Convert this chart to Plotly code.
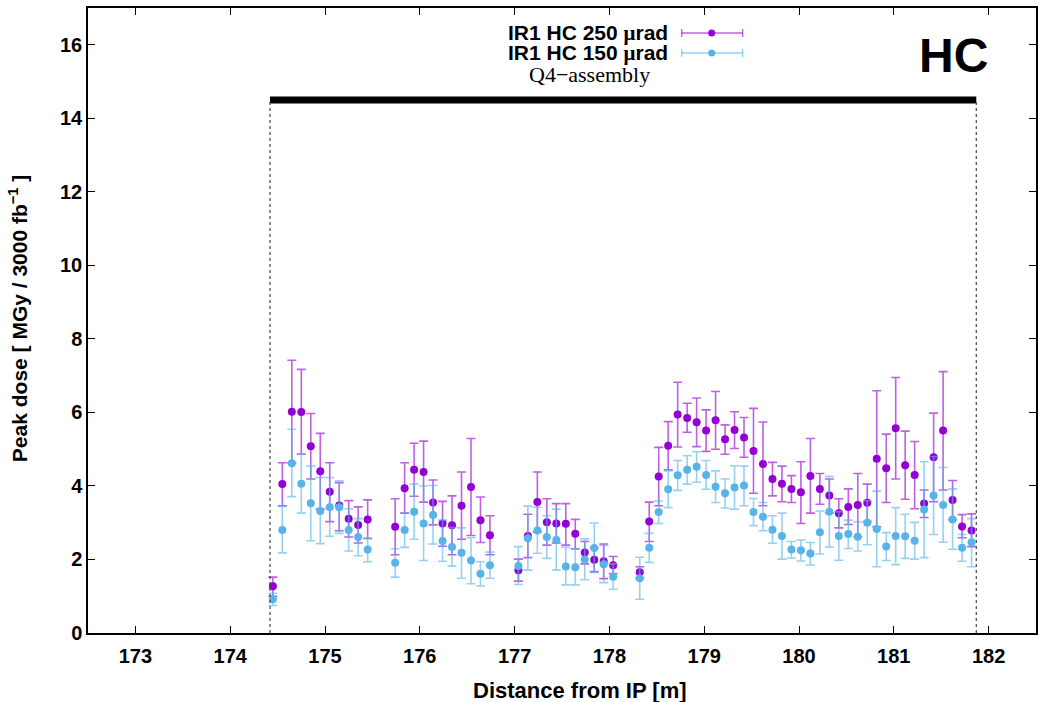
import numpy as np
import plotly.graph_objects as go

# ---------------- data ----------------
pos = [174.45, 174.55, 174.65, 174.75, 174.85, 174.95, 175.05, 175.15, 175.25, 175.35, 175.45,
       175.74, 175.84, 175.94, 176.04, 176.14, 176.24, 176.34, 176.44, 176.54, 176.64, 176.74,
       177.04, 177.14, 177.24, 177.34, 177.44, 177.54, 177.64, 177.74, 177.84, 177.94, 178.04,
       178.32, 178.42, 178.52, 178.62, 178.72, 178.82, 178.92, 179.02, 179.12, 179.22, 179.32,
       179.42, 179.52, 179.62, 179.72, 179.82, 179.92, 180.02, 180.12, 180.22, 180.32, 180.42,
       180.52, 180.62, 180.72, 180.82, 180.92, 181.02, 181.12, 181.22, 181.32, 181.42, 181.52,
       181.62, 181.72, 181.82]

hc250 = [1.27, 4.05, 6.02, 6.01, 5.08, 4.40, 3.84, 3.47, 3.11, 2.94, 3.09,
         2.89, 3.94, 4.44, 4.38, 3.55, 2.98, 2.93, 3.46, 3.97, 3.07, 2.66,
         1.71, 2.64, 3.56, 3.01, 2.98, 2.97, 2.70, 2.19, 1.99, 1.95, 1.84,
         1.65, 3.03, 4.26, 5.09, 5.94, 5.85, 5.73, 5.51, 5.79, 5.27, 5.52, 5.32, 4.95,
         4.60, 4.19, 4.06, 3.92, 3.83, 4.27, 3.92, 3.74, 3.26, 3.43, 3.48, 3.54, 4.74,
         4.48, 5.57, 4.56, 4.30, 3.52, 4.78, 5.51, 3.62, 2.90, 2.79]
hc250_hi = [1.52, 4.63, 7.42, 7.17, 5.97, 5.43, 4.63, 4.09, 3.60, 3.43, 3.62,
            3.65, 4.63, 5.16, 5.22, 4.16, 3.58, 3.73, 4.38, 5.29, 3.70, 3.19,
            2.01, 3.23, 4.38, 3.65, 3.52, 3.52, 3.09, 2.49, 2.31, 2.42, 2.08,
            1.80, 3.56, 5.05, 5.75, 6.82, 6.25, 6.39, 6.07, 6.57, 5.66, 6.02, 5.86, 6.11,
            5.74, 4.64, 4.54, 4.28, 4.66, 5.29, 4.34, 4.19, 3.65, 3.92, 4.34, 4.05, 6.59,
            5.41, 6.95, 5.49, 5.21, 3.89, 5.98, 7.11, 4.15, 3.22, 3.24]
hc250_lo = [1.00, 3.46, 4.62, 4.87, 4.19, 3.37, 3.03, 2.78, 2.61, 2.45, 2.57,
            2.13, 3.26, 3.72, 3.56, 2.94, 2.36, 2.13, 2.55, 2.65, 2.46, 2.13,
            1.41, 2.05, 2.75, 2.39, 2.45, 2.39, 2.29, 1.88, 1.67, 1.48, 1.62,
            1.49, 2.49, 3.46, 4.44, 5.06, 5.46, 5.07, 4.94, 5.00, 4.86, 5.02, 4.78, 3.80,
            3.46, 3.73, 3.57, 3.55, 2.98, 3.26, 3.50, 3.27, 2.86, 2.95, 2.62, 3.03, 2.89,
            3.55, 4.19, 3.64, 3.38, 3.14, 3.57, 3.89, 3.08, 2.59, 2.35]

hc150 = [0.92, 2.80, 4.62, 4.06, 3.53, 3.32, 3.42, 3.42, 2.80, 2.61, 2.27,
         1.91, 2.80, 3.30, 2.98, 3.21, 2.50, 2.34, 2.18, 1.97, 1.61, 1.84,
         1.82, 2.58, 2.79, 2.61, 2.53, 1.81, 1.79, 2.00, 2.31, 1.87, 1.53,
         1.49, 2.32, 3.29, 3.91, 4.29, 4.44, 4.52, 4.30, 3.98, 3.80, 3.96, 4.01, 3.29,
         3.16, 2.81, 2.64, 2.27, 2.25, 2.16, 2.74, 3.30, 2.64, 2.69, 2.62, 3.00, 2.83,
         2.35, 2.64, 2.63, 2.51, 3.36, 3.74, 3.48, 3.09, 2.32, 2.47]
hc150_hi = [1.08, 3.44, 5.54, 4.86, 4.54, 4.23, 4.23, 4.14, 3.38, 3.11, 2.58,
            2.29, 3.27, 4.05, 4.00, 4.01, 3.07, 2.87, 2.86, 2.59, 1.94, 2.20,
            2.35, 3.45, 3.42, 3.19, 3.37, 2.33, 2.28, 2.56, 2.99, 2.38, 1.88,
            2.06, 2.71, 3.59, 4.41, 4.69, 4.82, 4.93, 4.69, 4.41, 4.19, 4.55, 4.54, 3.66,
            3.55, 3.19, 3.26, 2.49, 2.53, 2.46, 3.32, 4.26, 3.30, 3.07, 3.02, 3.60, 3.86,
            2.73, 3.41, 3.23, 3.01, 4.66, 4.80, 4.50, 3.92, 2.68, 3.11]
hc150_lo = [0.75, 2.18, 3.71, 3.26, 2.51, 2.43, 2.63, 2.71, 2.23, 2.10, 1.94,
            1.52, 2.33, 2.55, 1.97, 2.42, 1.95, 1.82, 1.49, 1.34, 1.28, 1.49,
            1.32, 1.71, 2.17, 2.03, 1.71, 1.31, 1.31, 1.45, 1.65, 1.37, 1.19,
            0.92, 1.92, 2.98, 3.41, 3.88, 4.05, 4.10, 3.91, 3.55, 3.40, 3.37, 3.46, 2.92,
            2.78, 2.44, 2.01, 2.04, 1.96, 1.85, 2.15, 2.34, 1.98, 2.30, 2.23, 2.40, 1.80,
            1.97, 1.86, 2.03, 2.01, 2.05, 2.68, 2.47, 2.28, 1.95, 1.80]

series_names = ["IR1 HC 250 ", "IR1 HC 150 "]
unit_label = "μrad"
q4_label = "Q4\u2212assembly"
q4_start, q4_end, q4_level = 174.42, 181.87, 14.5
x_ticks = [173, 174, 175, 176, 177, 178, 179, 180, 181, 182]
y_ticks = [0, 2, 4, 6, 8, 10, 12, 14, 16]

# ---------------- styling ----------------
PURPLE = "#9400D3"
BLUE = "#56B4E9"
PURPLE_ERR = "rgba(148,0,211,0.62)"
BLUE_ERR = "rgba(86,180,233,0.62)"
SANS = "Liberation Sans"
SERIF = "Liberation Serif"

W, H = 1038, 702
L, R, T, B = 88, 0, 8, 69


def px2paper_x(px):
    return (px - L) / (W - L - R)


def px2paper_y(py):
    return (H - B - py) / (H - T - B)


fig = go.Figure()

for vals, hi, lo, col, ecol, nm in [
    (hc250, hc250_hi, hc250_lo, PURPLE, PURPLE_ERR, series_names[0] + unit_label),
    (hc150, hc150_hi, hc150_lo, BLUE, BLUE_ERR, series_names[1] + unit_label),
]:
    v = np.array(vals)
    fig.add_trace(go.Scatter(
        x=pos, y=v, mode="markers", name=nm,
        marker=dict(color=col, size=8, line=dict(width=0)),
        error_y=dict(type="data", symmetric=False,
                     array=np.array(hi) - v, arrayminus=v - np.array(lo),
                     color=ecol, thickness=1.6, width=4.5),
        showlegend=False,
    ))

shapes = []
# Q4 assembly bar and dotted limits
shapes.append(dict(type="line", xref="x", yref="y", x0=q4_start, x1=q4_end,
                   y0=q4_level, y1=q4_level, line=dict(color="black", width=7)))
for xv in (q4_start, q4_end):
    shapes.append(dict(type="line", xref="x", yref="y", x0=xv, x1=xv, y0=0, y1=q4_level,
                       line=dict(color="#444", width=1.2, dash="dot")))

annotations = []
# custom legend
leg_rows = [(33, series_names[0], PURPLE, PURPLE_ERR), (53, series_names[1], BLUE, BLUE_ERR)]
for py, nm, col, ecol in leg_rows:
    yp = px2paper_y(py)
    annotations.append(dict(xref="paper", yref="paper", x=px2paper_x(671), y=yp,
                            xanchor="right", yanchor="middle", showarrow=False,
                            text="<b>" + nm + "<span style='font-family:" + SERIF + "'>"
                                 + unit_label[0] + "</span>" + unit_label[1:] + "</b>",
                            font=dict(family=SANS, size=21, color="black")))
    x0, x1 = px2paper_x(683), px2paper_x(744)
    shapes.append(dict(type="line", xref="paper", yref="paper", x0=x0, x1=x1, y0=yp, y1=yp,
                       line=dict(color=ecol, width=1.4)))
    for xe in (x0, x1):
        shapes.append(dict(type="line", xref="paper", yref="paper", x0=xe, x1=xe,
                           y0=px2paper_y(py - 4), y1=px2paper_y(py + 4),
                           line=dict(color=ecol, width=1.4)))
    shapes.append(dict(type="circle", xref="paper", yref="paper",
                       x0=px2paper_x(713 - 3.5), x1=px2paper_x(713 + 3.5),
                       y0=px2paper_y(py + 3.5), y1=px2paper_y(py - 3.5),
                       fillcolor=col, line=dict(width=0)))

annotations.append(dict(xref="paper", yref="paper", x=px2paper_x(591), y=px2paper_y(75),
                        xanchor="center", yanchor="middle", showarrow=False, text=q4_label,
                        font=dict(family=SERIF, size=22, color="black")))
annotations.append(dict(xref="paper", yref="paper", x=px2paper_x(955), y=px2paper_y(55),
                        xanchor="center", yanchor="middle", showarrow=False, text="<b>HC</b>",
                        font=dict(family=SANS, size=48, color="black")))
# axis titles
annotations.append(dict(xref="paper", yref="paper", x=px2paper_x(581), y=px2paper_y(690),
                        xanchor="center", yanchor="middle", showarrow=False,
                        text="<b>Distance from IP [m]</b>",
                        font=dict(family=SANS, size=22, color="black")))
annotations.append(dict(xref="paper", yref="paper", x=px2paper_x(18), y=px2paper_y(318),
                        xanchor="center", yanchor="middle", showarrow=False, textangle=-90,
                        text="<b>Peak dose [ MGy / 3000 fb<sup>\u22121</sup> ]</b>",
                        font=dict(family=SANS, size=21, color="black")))

axis_common = dict(showgrid=False, zeroline=False, showline=True, linecolor="black",
                   linewidth=1.5, ticks="inside", ticklen=7, tickwidth=1.2,
                   tickcolor="black", mirror="ticks",
                   tickfont=dict(family=SANS, size=20, color="black", weight="bold"))

fig.update_layout(
    width=W, height=H,
    margin=dict(l=L, r=R, t=T, b=B, pad=0),
    paper_bgcolor="white", plot_bgcolor="white",
    xaxis=dict(range=[172.5, 182.5], tickvals=x_ticks, ticklabelstandoff=4, **axis_common),
    yaxis=dict(range=[0, 17], tickvals=y_ticks, **axis_common),
    shapes=shapes, annotations=annotations,
    showlegend=False,
)

fig.write_html("out.html")
